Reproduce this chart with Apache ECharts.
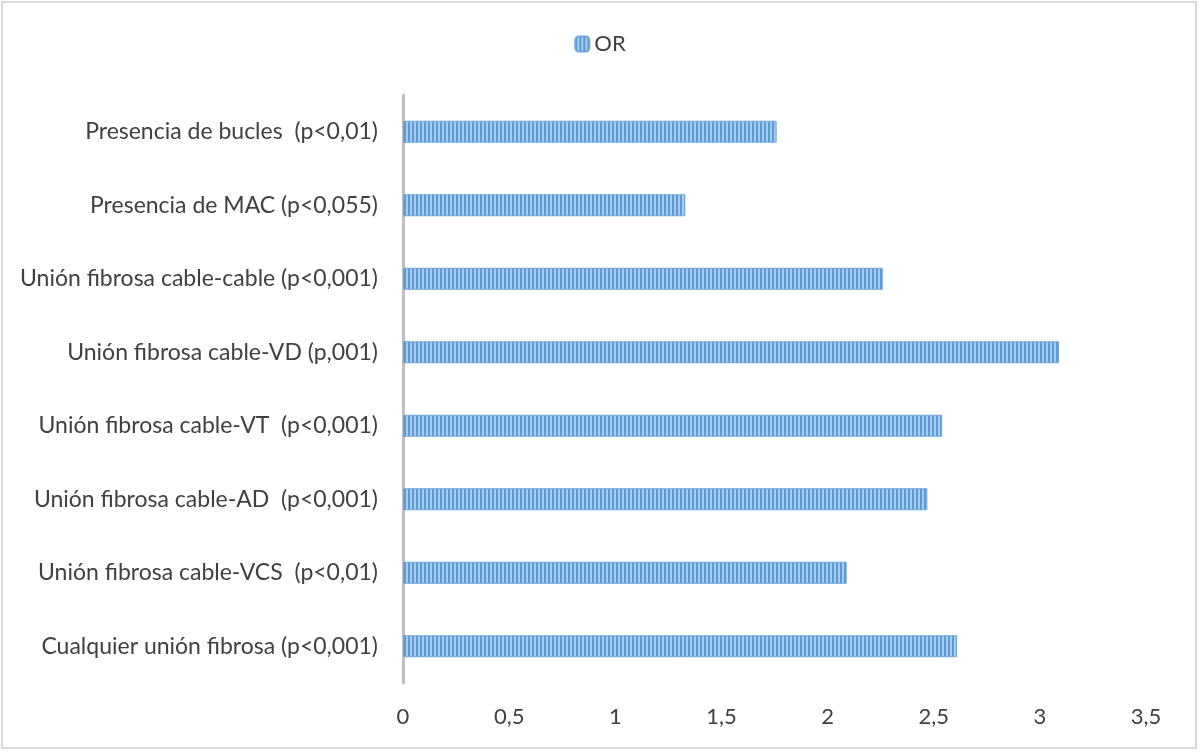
<!DOCTYPE html>
<html><head><meta charset="utf-8">
<script src="https://cdn.jsdelivr.net/npm/echarts@6/dist/echarts.min.js"></script>
<style>html,body{margin:0;padding:0;background:#fff}#c{width:1200px;height:753px}</style>
</head><body><div id="c"></div>
<script>
const categories = [
  "Presencia de bucles  (p<0,01)",
  "Presencia de MAC (p<0,055)",
  "Unión fibrosa cable-cable (p<0,001)",
  "Unión fibrosa cable-VD (p,001)",
  "Unión fibrosa cable-VT  (p<0,001)",
  "Unión fibrosa cable-AD  (p<0,001)",
  "Unión fibrosa cable-VCS  (p<0,01)",
  "Cualquier unión fibrosa (p<0,001)"
];
const orValues = [1.76, 1.33, 2.26, 3.09, 2.54, 2.47, 2.09, 2.61];
const seriesName = "OR";

const pc = document.createElement('canvas');
pc.width = 4; pc.height = 4;
const g = pc.getContext('2d');
g.fillStyle = '#5b9bd5'; g.fillRect(0,0,4,4);
g.fillStyle = '#a8cbee'; g.fillRect(2,0,2,4);
const pattern = {image: pc, repeat: 'repeat'};

const chart = echarts.init(document.getElementById('c'), null, {renderer:'canvas'});
const font = 'Lato, "Open Sans", sans-serif';
chart.setOption({
  animation: false,
  textStyle: {fontFamily: font},
  graphic: [{type:'rect', shape:{x:2,y:2,width:1194,height:746}, style:{fill:'none', stroke:'#d9d9d9', lineWidth:2}}],
  legend: {top: 28, left: 'center', itemWidth: 14, itemHeight: 15, itemGap: 9,
    textStyle:{fontSize:22, color:'#404040', fontFamily: font}, data:[seriesName]},
  grid: {left: 403, right: 54, top: 95, bottom: 70, containLabel: false},
  xAxis: {type:'value', min:0, max:3.5, interval:0.5,
    axisLine:{show:false}, axisTick:{show:false}, splitLine:{show:false},
    axisLabel:{fontSize:22, color:'#404040', margin:23, fontFamily: font,
      formatter: v => String(v).replace('.', ',')}},
  yAxis: {type:'category', data: categories, inverse:true,
    axisLine:{show:true, lineStyle:{color:'#bfbfbf', width:3}}, axisTick:{show:false},
    axisLabel:{fontSize:23, color:'#404040', margin:25, fontFamily: font}},
  series: [{name: seriesName, type:'bar', data: orValues, barWidth: 22,
    itemStyle:{color: pattern, borderColor:'#6fa6db', borderWidth:1}}]
});
</script></body></html>
